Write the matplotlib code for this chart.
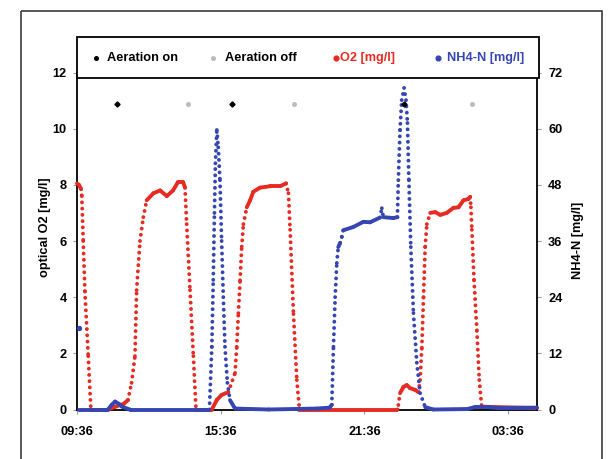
import numpy as np
import matplotlib
matplotlib.use("Agg")
import matplotlib.pyplot as plt
from matplotlib.collections import LineCollection
from matplotlib.patches import Rectangle

# time in hours after 09:36
o2_t = [0.00, 0.08, 0.17, 0.20, 0.26, 0.33, 0.47, 0.58, 1.30, 1.60, 1.95, 2.13,
        2.28, 2.42, 2.49, 2.63, 2.77, 2.91, 3.19, 3.47, 3.75, 4.01, 4.22, 4.43,
        4.51, 4.58, 4.72, 4.86, 4.97, 5.63, 5.84, 6.04, 6.32, 6.60, 6.67, 6.74,
        6.81, 6.88, 6.95, 7.09, 7.23, 7.36, 7.64, 8.06, 8.48, 8.73, 8.83, 8.90,
        9.04, 9.18, 9.29, 13.38, 13.42, 13.49, 13.63, 13.77, 13.91, 14.12, 14.26,
        14.33, 14.40, 14.47, 14.54, 14.61, 14.75, 14.96, 15.17, 15.44, 15.72,
        15.93, 16.14, 16.35, 16.42, 16.45, 16.49, 16.58, 16.70, 16.80, 16.90, 19.21]
o2_v = [8.05, 8.0, 7.85, 7.6, 6.0, 4.2, 1.9, 0.0, 0.0, 0.1, 0.2, 0.34,
        0.95, 1.9, 4.25, 6.0, 6.85, 7.45, 7.7, 7.8, 7.6, 7.8, 8.1, 8.1,
        7.9, 6.6, 4.25, 1.9, 0.0, 0.0, 0.34, 0.52, 0.62, 1.3, 2.23, 3.43,
        4.6, 5.8, 6.6, 7.2, 7.45, 7.75, 7.9, 7.95, 7.95, 8.05, 7.7, 6.4,
        3.4, 1.05, 0.0, 0.0, 0.16, 0.58, 0.8, 0.87, 0.76, 0.7, 0.62,
        1.05, 2.2, 4.0, 5.8, 6.6, 7.0, 7.03, 6.93, 7.0, 7.18,
        7.2, 7.45, 7.5, 7.57, 7.2, 6.4, 4.6, 2.8, 1.05, 0.1, 0.05]

nh4_t = [0.10, 1.29, 1.45, 1.59, 1.75, 1.88, 2.21, 5.53, 5.63, 5.69, 5.74, 5.78,
         5.84, 5.90, 5.97, 6.04, 6.11, 6.18, 6.28, 6.39, 6.60, 8.0, 10.0, 10.55,
         10.64, 10.71, 10.78, 10.85, 10.91, 10.99, 11.06, 11.12, 11.54, 11.96,
         12.24, 12.65, 12.73, 12.79, 13.21, 13.38, 13.42, 13.49, 13.56, 13.66,
         13.74, 13.80, 13.86, 13.94, 14.05, 14.19, 14.33, 14.54, 14.88, 16.3,
         16.6, 17.2, 17.6, 19.21]
nh4_v = [0.0, 0.0, 1.0, 1.7, 1.2, 0.6, 0.0, 0.0, 13.4, 27.7, 42.0, 52.6,
         59.7, 56.0, 49.0, 36.0, 24.0, 13.4, 5.7, 2.0, 0.2, 0.0, 0.2, 0.4,
         1.0, 13.4, 24.0, 31.3, 34.7, 35.6, 36.9, 38.3, 39.0, 40.1,
         40.0, 41.0, 43.0, 41.1, 40.9, 41.1, 49.0, 59.7, 66.1, 68.7,
         66.1, 61.2, 49.0, 34.7, 20.6, 10.0, 3.5, 0.5, 0.0, 0.1,
         0.5, 0.5, 0.3, 0.4]
nh4_start_t = [0.08]
nh4_start_v = [17.4]

aer_on_t = [1.66, 6.46, 13.66]
aer_off_t = [4.65, 9.08, 16.51]
aer_level = 65.3  # on the NH4 scale

xtick_pos = [0, 6, 12, 18]
xtick_labels = ["09:36", "15:36", "21:36", "03:36"]
legend_labels = ["Aeration on", "Aeration off", "O2 [mg/l]", "NH4-N [mg/l]"]

RED = "#e52b22"
BLUE = "#3546b2"
GREY = "#bcbcbc"

plt.rcParams["font.family"] = ["Liberation Sans"]
plt.rcParams["font.weight"] = "bold"

W, H = 614, 459
fig = plt.figure(figsize=(W / 100, H / 100), dpi=100)
L, R, B, T = 77, 537, 409.5, 72.5
ax = fig.add_axes([L / W, 1 - B / H, (R - L) / W, (B - T) / H])
ax2 = ax.twinx()
ax.set_xlim(0, 19.21)
ax.set_ylim(0, 12)
ax2.set_ylim(0, 72)


def dotted_series(axis, t, v, color):
    # steep parts look like separate dots, flat parts like a solid band
    pts = axis.transData.transform(np.column_stack([t, v]))
    segs, styles = [], []
    for i in range(len(t) - 1):
        dx, dy = pts[i + 1] - pts[i]
        segs.append([(t[i], v[i]), (t[i + 1], v[i + 1])])
        styles.append((0, (0.01, 1.6)) if abs(dy) > 2.5 * abs(dx) + 1 else "solid")
    lc = LineCollection(segs, colors=color, linewidths=2.8, linestyles=styles,
                        capstyle="round", clip_on=False, zorder=3)
    axis.add_collection(lc)


dotted_series(ax, o2_t, o2_v, RED)
dotted_series(ax2, nh4_t, nh4_v, BLUE)
ax2.plot(nh4_start_t, nh4_start_v, "o", color=BLUE, ms=2.8, zorder=3, clip_on=False)
ax2.plot(aer_on_t, [aer_level] * len(aer_on_t), "D", color="black", ms=2.6, zorder=6)
ax2.plot(aer_off_t, [aer_level] * len(aer_off_t), "o", color=GREY, ms=2.6, zorder=6)

ax.set_yticks(range(0, 13, 2))
ax2.set_yticks(range(0, 73, 12))
ax.set_xticks(xtick_pos)
ax.set_xticklabels(xtick_labels)
ax.tick_params(axis="both", labelsize=9.2, color="#999999", length=3, width=0.8)
ax.tick_params(axis="y", pad=4.4)
ax.tick_params(axis="x", pad=9)
ax2.tick_params(axis="y", labelsize=9.2, color="#999999", length=3, width=0.8, pad=5)

for s in ["top", "right"]:
    ax.spines[s].set_visible(False)
for s in ["top", "left", "bottom"]:
    ax2.spines[s].set_visible(False)
for sp in [ax.spines["left"], ax.spines["bottom"], ax2.spines["right"]]:
    sp.set_linewidth(1.3)
    sp.set_color("black")

ax.set_ylabel("optical O2 [mg/l]", fontsize=9.2, fontweight="bold")
ax.yaxis.set_label_coords((51 - L) / (R - L), (B - 227) / (B - T))
ax2.set_ylabel("NH4-N [mg/l]", fontsize=9.2, fontweight="bold")
ax2.yaxis.set_label_coords((572 - L) / (R - L), (B - 240) / (B - T))

# frame and legend box, drawn in pixel coordinates
over = fig.add_axes([0, 0, 1, 1], zorder=10)
over.set_xlim(0, W)
over.set_ylim(H, 0)
over.axis("off")
over.add_patch(Rectangle((21, 11), 581, 480, fill=False, ec="#3c3c3c", lw=1.2, clip_on=False))
over.add_patch(Rectangle((76.7, 36.7), 462.6, 41.6, fc="white", ec="black", lw=1.3))

leg_marker_x = [96, 212.7, 336, 438.3]
leg_text_x = [107, 225, 339.5, 446.7]
leg_colors = ["black", GREY, RED, BLUE]
leg_text_colors = ["black", "black", RED, BLUE]
leg_ms = [2.6, 2.6, 3.4, 3.4]
for lbl, mx, tx, c, tc, ms in zip(legend_labels, leg_marker_x, leg_text_x,
                                  leg_colors, leg_text_colors, leg_ms):
    over.plot([mx], [58], "o", color=c, ms=ms)
    over.text(tx, 58, lbl, color=tc, fontsize=9.2, ha="left", va="center")

fig.savefig("out.png", dpi=100)
